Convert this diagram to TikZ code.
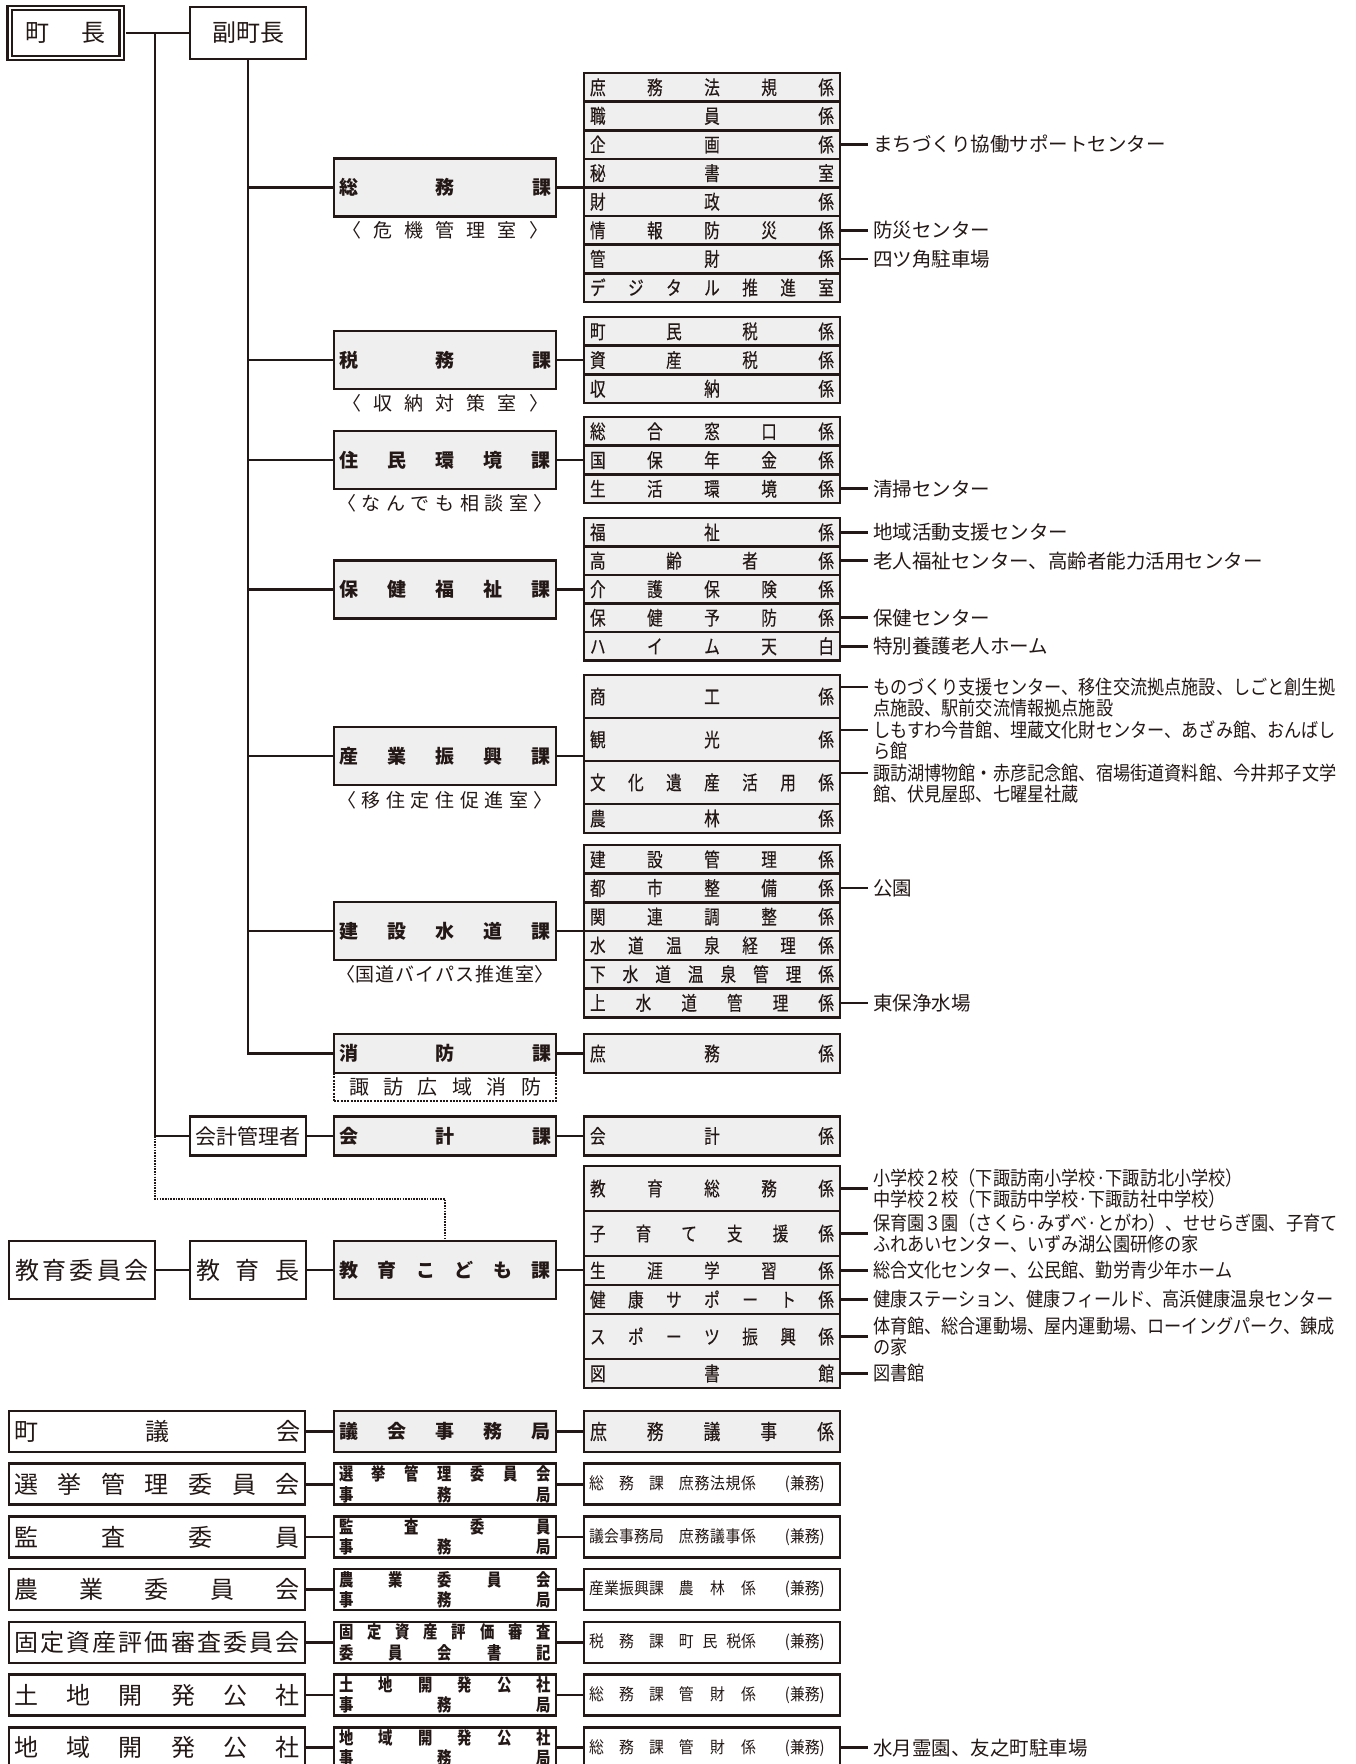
\documentclass[tikz,border=0pt]{standalone}
\usepackage{fontspec}
\setmainfont{Noto Sans CJK JP}
\newfontfamily\fN{Noto Sans CJK JP}
\newfontfamily\fC[FakeStretch=0.8,FakeBold=0.3]{Noto Sans CJK JP}
\newfontfamily\fA[FakeStretch=0.88]{Noto Sans CJK JP}
\newfontfamily\fBC[FakeStretch=0.82]{Noto Sans CJK JP}
\newfontfamily\fS[FakeStretch=0.9]{Noto Sans CJK JP}
\definecolor{ink}{HTML}{231815}
\definecolor{boxgray}{HTML}{EFEFEF}
\ExplSyntaxOn
\bool_new:N \l_dist_first_bool
\cs_new_protected:Npn \dist_item:n #1
  {
    \bool_if:NTF \l_dist_first_bool
      { \bool_set_false:N \l_dist_first_bool }
      { \hfill }
    #1
  }
\NewDocumentCommand \dist { m m }
  {
    \makebox[#1][s]
      {
        \bool_set_true:N \l_dist_first_bool
        \tl_map_function:nN {#2} \dist_item:n
      }
  }
\ExplSyntaxOff
\begin{document}
\begin{tikzpicture}[x=1pt,y=-1pt,
  bx/.style={draw=ink, line width=2.6pt, rectangle, inner sep=0pt, outer sep=0pt, text=ink},
  gbx/.style={bx, fill=boxgray},
  wbx/.style={bx, fill=white},
  conn/.style={draw=ink, line width=2.6pt},
  dotconn/.style={draw=ink, line width=2pt, dash pattern=on 1.6pt off 1.1pt},
  sub/.style={gbx, minimum width=256pt, font=\fC\fontsize{19.5}{21}\selectfont},
  sec/.style={gbx, minimum width=222pt, font=\fN\bfseries\fontsize{19}{21}\selectfont},
  head/.style={wbx, minimum width=116pt, font=\fN\fontsize{24}{26}\selectfont},
  ann/.style={anchor=west, inner sep=0pt, outer sep=0pt, text=ink, align=left, font=\fN\fontsize{19.5}{21}\selectfont},
  annc/.style={ann, font=\fA\fontsize{19.5}{21}\selectfont},
  subt/.style={inner sep=0pt, text=ink, font=\fN\fontsize{19}{21}\selectfont},
  bl/.style={wbx, minimum width=296pt, minimum height=41pt, font=\fN\fontsize{24}{26}\selectfont},
  bm/.style={wbx, minimum width=222pt, minimum height=41pt, align=center, font=\fBC\bfseries\fontsize{17.5}{20.5}\selectfont},
  br/.style={wbx, minimum width=256pt, minimum height=41pt, font=\fS\fontsize{16.5}{18}\selectfont}
]
\useasboundingbox (0,0) rectangle (1356,1764);
\fill[white] (0,0) rectangle (1356,1764);

% ---------- top
\node[draw=ink, double=white, double distance=2pt, line width=2.3pt, fill=white, inner sep=0pt,
  minimum width=112pt, minimum height=50pt, text=ink, font=\fN\fontsize{24}{26}\selectfont] (cho) at (65.5,33) {\dist{80pt}{町長}};
\node[head, minimum height=52pt] (fuku) at (248,33) {副町長};

% ---------- section boxes
\node[sec, minimum height=58pt] (somu) at (445,187.4) {\dist{212pt}{総務課}};
\node[subt] (somut) at (445,230) {\dist{206pt}{〈危機管理室〉}};
\node[sec, minimum height=58pt] (zeimu) at (445,360) {\dist{212pt}{税務課}};
\node[subt] (zeimut) at (445,403) {\dist{206pt}{〈収納対策室〉}};
\node[sec, minimum height=58pt] (jumin) at (445,460) {\dist{212pt}{住民環境課}};
\node[subt] (jumint) at (445,503) {\dist{216pt}{〈なんでも相談室〉}};
\node[sec, minimum height=58pt] (hoken) at (445,589.25) {\dist{212pt}{保健福祉課}};
\node[sec, minimum height=58pt] (sangyo) at (445,756) {\dist{212pt}{産業振興課}};
\node[subt] (sangyot) at (445,800) {\dist{216pt}{〈移住定住促進室〉}};
\node[sec, minimum height=58pt] (kensetsu) at (445,931) {\dist{212pt}{建設水道課}};
\node[subt] (kensetsut) at (445,974) {\dist{218pt}{〈国道バイパス推進室〉}};
\node[draw=ink, line width=2.2pt, dash pattern=on 2pt off 1.3pt, fill=white, inner sep=0pt, text=ink,
  minimum width=222pt, minimum height=28pt, font=\fN\fontsize{20}{22}\selectfont] (suwa) at (445,1087) {\dist{192pt}{諏訪広域消防}};
\node[sec, minimum height=39pt] (shobo) at (445,1053.5) {\dist{212pt}{消防課}};
\node[head, minimum height=38.5pt, font=\fN\fontsize{21}{23}\selectfont] (kanri) at (248,1136) {会計管理者};
\node[sec, minimum height=38.5pt] (kaikei) at (445,1136) {\dist{212pt}{会計課}};
\node[head, minimum width=146pt, minimum height=58pt] (iinkai) at (82,1270) {\dist{134pt}{教育委員会}};
\node[head, minimum height=58pt] (kyoikucho) at (248,1270) {\dist{104pt}{教育長}};
\node[sec, minimum height=58pt] (kyoiku) at (445,1270) {\dist{212pt}{教育こども課}};

% ---------- sub groups
\node[sub, minimum height=28.6pt] (s1a) at (712,87.3) {\dist{244pt}{庶務法規係}};
\node[sub, minimum height=28.6pt] (s1b) at (712,115.9) {\dist{244pt}{職員係}};
\node[sub, minimum height=28.6pt] (s1c) at (712,144.5) {\dist{244pt}{企画係}};
\node[sub, minimum height=28.6pt] (s1d) at (712,173.1) {\dist{244pt}{秘書室}};
\node[sub, minimum height=28.6pt] (s1e) at (712,201.7) {\dist{244pt}{財政係}};
\node[sub, minimum height=28.6pt] (s1f) at (712,230.3) {\dist{244pt}{情報防災係}};
\node[sub, minimum height=28.6pt] (s1g) at (712,258.9) {\dist{244pt}{管財係}};
\node[sub, minimum height=28.6pt] (s1h) at (712,287.5) {\dist{244pt}{デジタル推進室}};

\node[sub, minimum height=28.7pt] (s2a) at (712,331.35) {\dist{244pt}{町民税係}};
\node[sub, minimum height=28.7pt] (s2b) at (712,360.05) {\dist{244pt}{資産税係}};
\node[sub, minimum height=28.7pt] (s2c) at (712,388.75) {\dist{244pt}{収納係}};

\node[sub, minimum height=28.7pt] (s3a) at (712,431.35) {\dist{244pt}{総合窓口係}};
\node[sub, minimum height=28.7pt] (s3b) at (712,460.05) {\dist{244pt}{国保年金係}};
\node[sub, minimum height=28.7pt] (s3c) at (712,488.75) {\dist{244pt}{生活環境係}};

\node[sub, minimum height=28.5pt] (s4a) at (712,532.25) {\dist{244pt}{福祉係}};
\node[sub, minimum height=28.5pt] (s4b) at (712,560.75) {\dist{244pt}{高齢者係}};
\node[sub, minimum height=28.5pt] (s4c) at (712,589.25) {\dist{244pt}{介護保険係}};
\node[sub, minimum height=28.5pt] (s4d) at (712,617.75) {\dist{244pt}{保健予防係}};
\node[sub, minimum height=28.5pt] (s4e) at (712,646.25) {\dist{244pt}{ハイム天白}};

\node[sub, minimum height=43pt] (s5a) at (712,696.5) {\dist{244pt}{商工係}};
\node[sub, minimum height=43pt] (s5b) at (712,739.5) {\dist{244pt}{観光係}};
\node[sub, minimum height=43pt] (s5c) at (712,782.5) {\dist{244pt}{文化遺産活用係}};
\node[sub, minimum height=29pt] (s5d) at (712,818.5) {\dist{244pt}{農林係}};

\node[sub, minimum height=28.7pt] (s6a) at (712,859.35) {\dist{244pt}{建設管理係}};
\node[sub, minimum height=28.7pt] (s6b) at (712,888.05) {\dist{244pt}{都市整備係}};
\node[sub, minimum height=28.7pt] (s6c) at (712,916.75) {\dist{244pt}{関連調整係}};
\node[sub, minimum height=28.7pt] (s6d) at (712,945.45) {\dist{244pt}{水道温泉経理係}};
\node[sub, minimum height=28.7pt] (s6e) at (712,974.15) {\dist{244pt}{下水道温泉管理係}};
\node[sub, minimum height=28.7pt] (s6f) at (712,1002.85) {\dist{244pt}{上水道管理係}};

\node[sub, minimum height=39pt] (s7a) at (712,1053.5) {\dist{244pt}{庶務係}};
\node[sub, minimum height=38.5pt] (s8a) at (712,1136) {\dist{244pt}{会計係}};

\node[sub, minimum height=45pt] (s9a) at (712,1188.5) {\dist{244pt}{教育総務係}};
\node[sub, minimum height=45pt] (s9b) at (712,1233.5) {\dist{244pt}{子育て支援係}};
\node[sub, minimum height=29pt] (s9c) at (712,1270.5) {\dist{244pt}{生涯学習係}};
\node[sub, minimum height=29pt] (s9d) at (712,1299.5) {\dist{244pt}{健康サポート係}};
\node[sub, minimum height=45pt] (s9e) at (712,1336.5) {\dist{244pt}{スポーツ振興係}};
\node[sub, minimum height=29pt] (s9f) at (712,1373.5) {\dist{244pt}{図書館}};

% ---------- trunks and branches
\coordinate (t1) at (155,33);
\draw[conn, shorten <=3.3pt] (cho.east) -- (fuku.west);
\draw[conn] (t1) -- (t1 |- kanri.west) -- (kanri.west);
\draw[conn] (fuku.south) -- (fuku.south |- shobo.west) -- (shobo.west);
\foreach \n in {somu,zeimu,jumin,hoken,sangyo,kensetsu}
  \draw[conn] (fuku.south |- \n.west) -- (\n.west);
\draw[conn] (somu.east) -- (somu.east -| s1a.west);
\draw[conn] (zeimu.east) -- (zeimu.east -| s2a.west);
\draw[conn] (jumin.east) -- (jumin.east -| s3a.west);
\draw[conn] (hoken.east) -- (hoken.east -| s4a.west);
\draw[conn] (sangyo.east) -- (sangyo.east -| s5a.west);
\draw[conn] (kensetsu.east) -- (kensetsu.east -| s6a.west);
\draw[conn] (shobo.east) -- (s7a.west);
\draw[conn] (kanri.east) -- (kaikei.west);
\draw[conn] (kaikei.east) -- (s8a.west);
\coordinate (d1) at (155,1199);
\coordinate (d2) at (445,1199);
\draw[dotconn] (t1 |- kanri.west) -- (d1) -- (d2) -- (kyoiku.north);
\draw[conn] (iinkai.east) -- (kyoikucho.west);
\draw[conn] (kyoikucho.east) -- (kyoiku.west);
\draw[conn] (kyoiku.east) -- (kyoiku.east -| s9a.west);

% ---------- annotations
\node[ann] (a1c) at (873,144.5) {まちづくり協働サポートセンター};
\node[ann] (a1f) at (873,230.3) {防災センター};
\node[ann] (a1g) at (873,258.9) {四ツ角駐車場};
\node[ann] (a3c) at (873,488.75) {清掃センター};
\node[ann] (a4a) at (873,532.25) {地域活動支援センター};
\node[ann] (a4b) at (873,560.75) {老人福祉センター、高齢者能力活用センター};
\node[ann] (a4d) at (873,617.75) {保健センター};
\node[ann] (a4e) at (873,646.25) {特別養護老人ホーム};
\node[annc] (a5a) at (873,687) {ものづくり支援センター、移住交流拠点施設、しごと創生拠};
\node[annc] (a5a2) at (873,708) {点施設、駅前交流情報拠点施設};
\node[annc] (a5b) at (873,730) {しもすわ今昔館、埋蔵文化財センター、あざみ館、おんばし};
\node[annc] (a5b2) at (873,751) {ら館};
\node[annc] (a5c) at (873,773) {諏訪湖博物館・赤彦記念館、宿場街道資料館、今井邦子文学};
\node[annc] (a5c2) at (873,794) {館、伏見屋邸、七曜星社蔵};
\node[ann] (a6b) at (873,888.05) {公園};
\node[ann] (a6f) at (873,1002.85) {東保浄水場};
\node[annc] (a9a) at (873,1188.5) {小学校２校（下諏訪南小学校·下諏訪北小学校）\\中学校２校（下諏訪中学校·下諏訪社中学校）};
\node[annc] (a9b) at (873,1233.5) {保育園３園（さくら·みずべ·とがわ）、せせらぎ園、子育て\\ふれあいセンター、いずみ湖公園研修の家};
\node[annc] (a9c) at (873,1270.5) {総合文化センター、公民館、勤労青少年ホーム};
\node[annc] (a9d) at (873,1299.5) {健康ステーション、健康フィールド、高浜健康温泉センター};
\node[annc] (a9e) at (873,1336.5) {体育館、総合運動場、屋内運動場、ローイングパーク、錬成\\の家};
\node[annc] (a9f) at (873,1373.5) {図書館};

\foreach \s/\a in {s1c/a1c,s1f/a1f,s1g/a1g,s3c/a3c,s4a/a4a,s4b/a4b,s4d/a4d,s4e/a4e,s6b/a6b,s6f/a6f,s9a/a9a,s9b/a9b,s9c/a9c,s9d/a9d,s9e/a9e,s9f/a9f}
  \draw[conn, shorten >=5pt] (\s.east) -- (\a.west);
\foreach \s/\a in {s5a/a5a,s5b/a5b,s5c/a5c}
  \draw[conn, shorten >=5pt] (\s.east |- \a.west) -- (\a.west);

% ---------- bottom rows
\node[bl] (bl0) at (157,1431.5) {\dist{286pt}{町議会}};
\node[bl] (bl1) at (157,1484.2) {\dist{286pt}{選挙管理委員会}};
\node[bl] (bl2) at (157,1536.9) {\dist{286pt}{監査委員}};
\node[bl] (bl3) at (157,1589.6) {\dist{286pt}{農業委員会}};
\node[bl] (bl4) at (157,1642.3) {\dist{286pt}{固定資産評価審査委員会}};
\node[bl] (bl5) at (157,1695.0) {\dist{286pt}{土地開発公社}};
\node[bl] (bl6) at (157,1747.7) {\dist{286pt}{地域開発公社}};

\node[sec, minimum height=41pt] (bm0) at (445,1431.5) {\dist{212pt}{議会事務局}};
\node[bm] (bm1) at (445,1484.2) {\dist{212pt}{選挙管理委員会}\\\dist{212pt}{事務局}};
\node[bm] (bm2) at (445,1536.9) {\dist{212pt}{監査委員}\\\dist{212pt}{事務局}};
\node[bm] (bm3) at (445,1589.6) {\dist{212pt}{農業委員会}\\\dist{212pt}{事務局}};
\node[bm] (bm4) at (445,1642.3) {\dist{212pt}{固定資産評価審査}\\\dist{212pt}{委員会書記}};
\node[bm] (bm5) at (445,1695.0) {\dist{212pt}{土地開発公社}\\\dist{212pt}{事務局}};
\node[bm] (bm6) at (445,1747.7) {\dist{212pt}{地域開発公社}\\\dist{212pt}{事務局}};

\node[sub, minimum height=41pt, font=\fC\fontsize{21}{23}\selectfont] (br0) at (712,1431.5) {\dist{244pt}{庶務議事係}};
\node[br] (br1) at (712,1484.2) {\makebox[246pt][l]{\dist{75pt}{総務課}\hspace{15pt}\dist{77pt}{庶務法規係}\hspace{29pt}(兼務)}};
\node[br] (br2) at (712,1536.9) {\makebox[246pt][l]{\dist{75pt}{議会事務局}\hspace{15pt}\dist{77pt}{庶務議事係}\hspace{29pt}(兼務)}};
\node[br] (br3) at (712,1589.6) {\makebox[246pt][l]{\dist{75pt}{産業振興課}\hspace{15pt}\dist{77pt}{農林係}\hspace{29pt}(兼務)}};
\node[br] (br4) at (712,1642.3) {\makebox[246pt][l]{\dist{75pt}{税務課}\hspace{15pt}\makebox[77pt][s]{町\hfill 民\hfill 税係}\hspace{29pt}(兼務)}};
\node[br] (br5) at (712,1695.0) {\makebox[246pt][l]{\dist{75pt}{総務課}\hspace{15pt}\dist{77pt}{管財係}\hspace{29pt}(兼務)}};
\node[br] (br6) at (712,1747.7) {\makebox[246pt][l]{\dist{75pt}{総務課}\hspace{15pt}\dist{77pt}{管財係}\hspace{29pt}(兼務)}};

\foreach \i in {0,...,6} {
  \draw[conn] (bl\i.east) -- (bm\i.west);
  \draw[conn] (bm\i.east) -- (br\i.west);
}
\node[ann] (a10) at (873,1747.7) {水月霊園、友之町駐車場};
\draw[conn, shorten >=5pt] (br6.east) -- (a10.west);
\end{tikzpicture}
\end{document}
